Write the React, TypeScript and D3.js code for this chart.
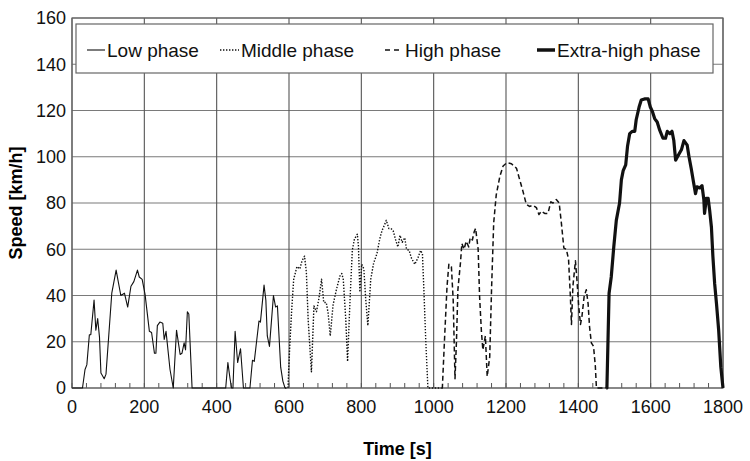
import React from "react";
import * as d3 from "d3";

// speed trace, [time s, speed km/h]
const lowPhase: [number, number][] = [
  [0, 0], [29, 0], [36, 8], [41, 10], [48, 23], [52, 23], [61, 38], [66, 25], [71, 30], [76, 22],
  [80, 6.5], [89, 4], [94, 6], [110, 41], [122, 51], [135, 40], [145, 41], [154, 35], [163, 44],
  [171, 46], [181, 51], [186, 48], [194, 47], [202, 40.5], [214, 24.5], [220, 24], [228, 15],
  [232, 15], [236, 27], [243, 28.5], [251, 28], [255, 21], [260, 24.5], [271, 8], [280, 0],
  [289, 25], [299, 14.5], [304, 15], [310, 19.5], [314, 16.5], [319, 33], [323, 32], [332, 0],
  [425, 0], [431, 11], [437, 4], [441, 0], [445, 0], [451, 24.5], [458, 11], [466, 17], [474, 0],
  [492, 0], [499, 12], [504, 11.5], [511, 21], [517, 29], [521, 28.5], [531, 44.5], [536, 38],
  [540, 22.5], [546, 18], [557, 40], [563, 35], [568, 35.5], [577, 9], [583, 3], [589, 0],
];
const middlePhase: [number, number][] = [
  [589, 0], [597, 0], [602, 18], [607, 32.5], [613, 47], [622, 52.5], [630, 51.5], [636, 55],
  [643, 57], [648, 50], [653, 29.5], [662, 7], [669, 35.5], [676, 33], [683, 39], [690, 47],
  [696, 37], [703, 37], [708, 32.5], [714, 22.5], [722, 36], [731, 42.5], [741, 48.5], [746, 49.5],
  [750, 47], [757, 29.5], [762, 11.5], [769, 39], [775, 59.5], [781, 64.5], [789, 66.5],
  [792, 61.5], [796, 41.5], [801, 53.5], [807, 51.5], [812, 38.5], [818, 27], [826, 47], [834, 54],
  [843, 58], [851, 64.5], [857, 68], [864, 70.5], [869, 72.5], [876, 69], [882, 69], [888, 68],
  [895, 64], [901, 61], [907, 66], [913, 63], [920, 65], [925, 60], [932, 59.5], [939, 56],
  [948, 53.5], [957, 56.5], [964, 59.5], [969, 58], [973, 42.5], [978, 21], [984, 0], [1022, 0],
];
const highPhase: [number, number][] = [
  [1022, 0], [1024, 0], [1030, 21], [1037, 44], [1042, 53.5], [1049, 52.5], [1054, 38], [1059, 4],
  [1063, 20], [1067, 42.5], [1074, 54], [1078, 62.5], [1084, 60], [1090, 63.5], [1097, 61],
  [1101, 65], [1107, 64], [1112, 67.5], [1116, 69], [1123, 60], [1127, 39.5], [1132, 24.5],
  [1136, 16.5], [1143, 22.5], [1148, 5], [1155, 13.5], [1160, 42.5], [1166, 71.5], [1173, 83.5],
  [1183, 91.5], [1192, 96], [1203, 97.5], [1215, 97], [1229, 95], [1238, 90], [1247, 85],
  [1256, 79.5], [1265, 78.5], [1275, 79], [1284, 78], [1291, 75], [1298, 76.5], [1307, 75.5],
  [1316, 75.5], [1324, 80.5], [1330, 80], [1339, 81.5], [1347, 80], [1353, 71.5], [1360, 60.5],
  [1367, 60], [1373, 55.5], [1378, 39.5], [1381, 27.5], [1385, 44], [1392, 55], [1396, 47],
  [1401, 35.5], [1406, 27.5], [1410, 31], [1416, 39.5], [1422, 42.5], [1427, 36.5], [1431, 26.5],
  [1436, 19.5], [1442, 18], [1447, 9.5], [1450, 0], [1477, 0],
];
const extraHighPhase: [number, number][] = [
  [1477, 0], [1479, 0], [1485, 41], [1491, 48], [1498, 61], [1505, 72.5], [1514, 80], [1519, 90],
  [1524, 94], [1531, 96.5], [1536, 104.5], [1542, 110], [1549, 111], [1556, 111], [1560, 116],
  [1568, 121.5], [1574, 124.5], [1583, 125], [1593, 125], [1599, 121.5], [1605, 119.5],
  [1611, 116.5], [1618, 115], [1625, 111.5], [1634, 108], [1641, 108], [1646, 111], [1653, 110],
  [1659, 111], [1664, 107], [1669, 98.5], [1676, 100.5], [1685, 103], [1692, 107], [1701, 105],
  [1706, 100], [1712, 95], [1719, 88.5], [1724, 84], [1728, 87], [1736, 86.5], [1742, 87.5],
  [1747, 81.5], [1749, 75.5], [1754, 82], [1759, 82], [1763, 77], [1768, 69.5], [1772, 57],
  [1777, 45], [1782, 36.5], [1788, 25], [1794, 9], [1800, 0],
];

const phaseNames = ["Low phase", "Middle phase", "High phase", "Extra-high phase"];
const xTicks = [0, 200, 400, 600, 800, 1000, 1200, 1400, 1600, 1800];
const yTicks = [0, 20, 40, 60, 80, 100, 120, 140, 160];

const W = 750, H = 461;
const margin = { top: 18, right: 27, bottom: 73, left: 72 };
const FONT = "Liberation Sans, Arial, sans-serif";

// stroke per phase
const styles = [
  { width: 1.1, dash: "" },
  { width: 1.4, dash: "1.4 1.6" },
  { width: 1.5, dash: "5 3" },
  { width: 3.2, dash: "" },
];

export default function App() {
  const w = W - margin.left - margin.right;
  const h = H - margin.top - margin.bottom;
  const x = d3.scaleLinear().domain([0, 1800]).range([0, w]);
  const y = d3.scaleLinear().domain([0, 160]).range([h, 0]);
  const line = d3.line<[number, number]>().x(d => x(d[0])).y(d => y(d[1]));
  const minor = d3.range(0, 1801, 40);
  const series = [lowPhase, middlePhase, highPhase, extraHighPhase];

  // legend samples: start x and length, inside the legend box
  const legendPos = [{ x: 11, len: 18 }, { x: 144, len: 19 }, { x: 309, len: 18 }, { x: 461, len: 18 }];

  return (
    <svg width={W} height={H} style={{ position: "absolute", left: 0, top: 0, background: "#fff" }}>
      <g transform={`translate(${margin.left},${margin.top})`} fontFamily={FONT}>
        {yTicks.map(t => (
          <line key={"gy" + t} x1={0} x2={w} y1={y(t)} y2={y(t)} stroke="#7a7a7a" strokeWidth={1.2} />
        ))}
        {xTicks.map(t => (
          <line key={"gx" + t} x1={x(t)} x2={x(t)} y1={0} y2={h} stroke="#555" strokeWidth={1.1} />
        ))}
        {minor.map(t => (
          <line key={"mt" + t} x1={x(t)} x2={x(t)} y1={h} y2={h - 5} stroke="#555" strokeWidth={1} />
        ))}
        <rect x={0} y={0} width={w} height={h} fill="none" stroke="#666" strokeWidth={1.2} />

        {series.map((s, i) => (
          <path key={i} d={line(s) || ""} fill="none" stroke="#111" strokeWidth={styles[i].width}
            strokeDasharray={styles[i].dash} strokeLinejoin="round" />
        ))}

        {yTicks.map(t => (
          <text key={"ly" + t} x={-6} y={y(t)} dy="0.36em" textAnchor="end" fontSize={18} fill="#111">{t}</text>
        ))}
        {xTicks.map(t => (
          <text key={"lx" + t} x={x(t)} y={h + 25} textAnchor="middle" fontSize={18} fill="#111">{t}</text>
        ))}

        <g transform="translate(4,6)">
          <rect x={0} y={0} width={637} height={49} fill="#fff" stroke="#666" strokeWidth={1.2} />
          {phaseNames.map((n, i) => (
            <g key={n} transform={`translate(${legendPos[i].x},26)`}>
              <line x1={0} x2={legendPos[i].len} y1={0} y2={0} stroke="#111"
                strokeWidth={i === 3 ? 3.5 : styles[i].width}
                strokeDasharray={i === 2 ? "5 4" : styles[i].dash} />
              <text x={legendPos[i].len + 2} y={0} dy="0.36em" fontSize={19} fill="#111">{n}</text>
            </g>
          ))}
        </g>
      </g>
      <text x={margin.left + w / 2} y={455} textAnchor="middle" fontFamily={FONT} fontWeight="bold" fontSize={18}>Time [s]</text>
      <text transform={`translate(22,${margin.top + h / 2}) rotate(-90)`} textAnchor="middle" fontFamily={FONT}
        fontWeight="bold" fontSize={18}>Speed [km/h]</text>
    </svg>
  );
}
